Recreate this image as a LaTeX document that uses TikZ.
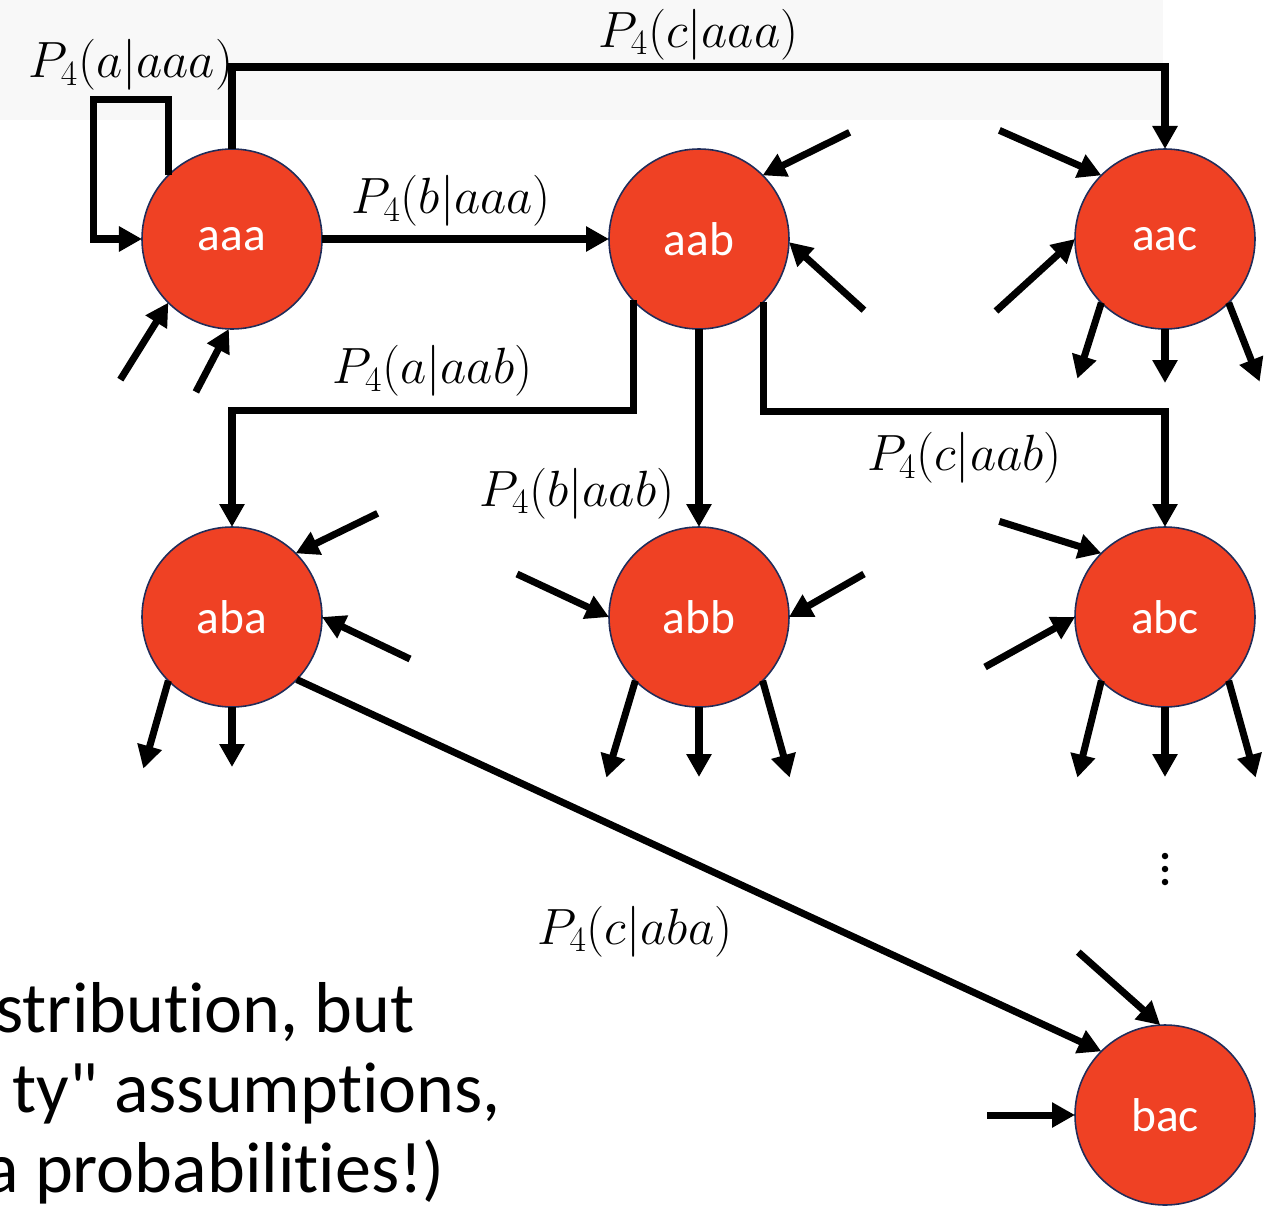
\RequirePackage{fix-cm}
\documentclass[tikz,border=0pt]{standalone}
\usepackage{fontspec}
\newfontfamily\slidefont[Ligatures=NoCommon]{Carlito}
\usetikzlibrary{arrows.meta,calc}
\definecolor{staterd}{RGB}{239,65,36}
\definecolor{statebd}{RGB}{32,45,90}
\definecolor{bandgray}{RGB}{248,248,248}
\tikzset{
	state/.style={circle, fill=staterd, draw=statebd, line width=0.9pt, minimum size=3.6cm, inner sep=0pt, outer sep=0pt, text=white, font=\slidefont\fontsize{27}{32}\selectfont},
	arr/.style={line width=4pt, -{Triangle[length=0.46cm,width=0.48cm]}},
	inarr/.style={line width=4pt, {Triangle[length=0.46cm,width=0.48cm]}-},
	prob/.style={font=\fontsize{29}{35}\selectfont, inner sep=2pt},
	slidetext/.style={anchor=base west, inner sep=0pt, font=\slidefont\fontsize{41}{49}\selectfont},
}
\begin{document}
\begin{tikzpicture}
	\useasboundingbox (-4.64,4.78) rectangle (20.88,-19.32);
	\clip (-4.64,4.78) rectangle (20.88,-19.32);
	\fill[bandgray] (-4.64,4.78) rectangle (18.62,2.38);

	% states
	\node[state] (aaa) at (0,0) {aaa};
	\node[state] (aab) at (9.34,0) {aab};
	\node[state] (aac) at (18.66,0) {aac};
	\node[state] (aba) at (0,-7.56) {aba};
	\node[state] (abb) at (9.34,-7.56) {abb};
	\node[state] (abc) at (18.66,-7.56) {abc};
	\node[state] (bac) at (18.66,-17.52) {bac};

	% transitions with labels
	\draw[arr] (aaa.135) -- ++(0,1.52) -- node[prob, above=1pt] {$P_4(a|aaa)$} ++(-1.5,0) |- (aaa.west);
	\draw[arr] (aaa.north) -- ++(0,1.64) -| node[prob, pos=0.25, above=0pt] {$P_4(c|aaa)$} (aac.north);
	\draw[arr] (aaa.east) -- node[prob, pos=0.45, above=3pt] {$P_4(b|aaa)$} (aab.west);
	\draw[arr] (aab.223.6) -- ++(0,-2.2) -| node[prob, pos=0.25, above=4pt] {$P_4(a|aab)$} (aba.north);
	\draw[arr] (aab.south) -- node[prob, pos=0.83, left=10pt] {$P_4(b|aab)$} (abb.north);
	\draw[arr] (aab.316.4) -- ++(0,-2.2) -| node[prob, pos=0.25, below=8pt] {$P_4(c|aab)$} (abc.north);
	\draw[arr] (aba.316) -- node[prob, pos=0.55, below left, yshift=-0.3cm] {$P_4(c|aba)$} (bac.135);

	% incoming stubs
	\foreach \n/\a/\dx/\dy in {aaa/225/-0.96/-1.54, aaa/268/-0.66/-1.26, aab/45/1.74/0.86, aab/358/1.5/-1.36,
		aac/135/-2.04/0.9, aac/180/-1.58/-1.44, aba/45/1.64/0.8, aba/0/1.76/-0.84,
		abb/180/-1.84/0.86, abb/0/1.5/0.86, abc/135/-2.04/0.64, abc/180/-1.8/-1.0,
		bac/93/-1.64/1.46, bac/180/-1.76/0}
		\draw[inarr] (\n.\a) -- ++(\dx,\dy);

	% outgoing stubs
	\foreach \n/\a/\dx/\dy in {aac/225/-0.48/-1.52, aac/270/0/-1.08, aac/315/0.62/-1.58,
		aba/225/-0.5/-1.76, aba/270/0/-1.2,
		abb/225/-0.58/-1.94, abb/270/0/-1.4, abb/315/0.54/-1.94,
		abc/225/-0.48/-1.94, abc/270/0/-1.4, abc/315/0.54/-1.94}
		\draw[arr] (\n.\a) -- ++(\dx,\dy);

	% more states below
	\foreach \y in {-12.34,-12.6,-12.86}
		\fill (18.66,\y) circle (0.065);

	% slide text, cut at the left edge
	\node[slidetext] (txta) at (-4.74,-15.86) {stribution, but};
	\node[slidetext] (txtb) at (-4.4,-17.46) {ty" assumptions,};
	\node[slidetext] (txtc) at (-4.96,-19.06) {a probabilities!)};

\end{tikzpicture}
\end{document}
